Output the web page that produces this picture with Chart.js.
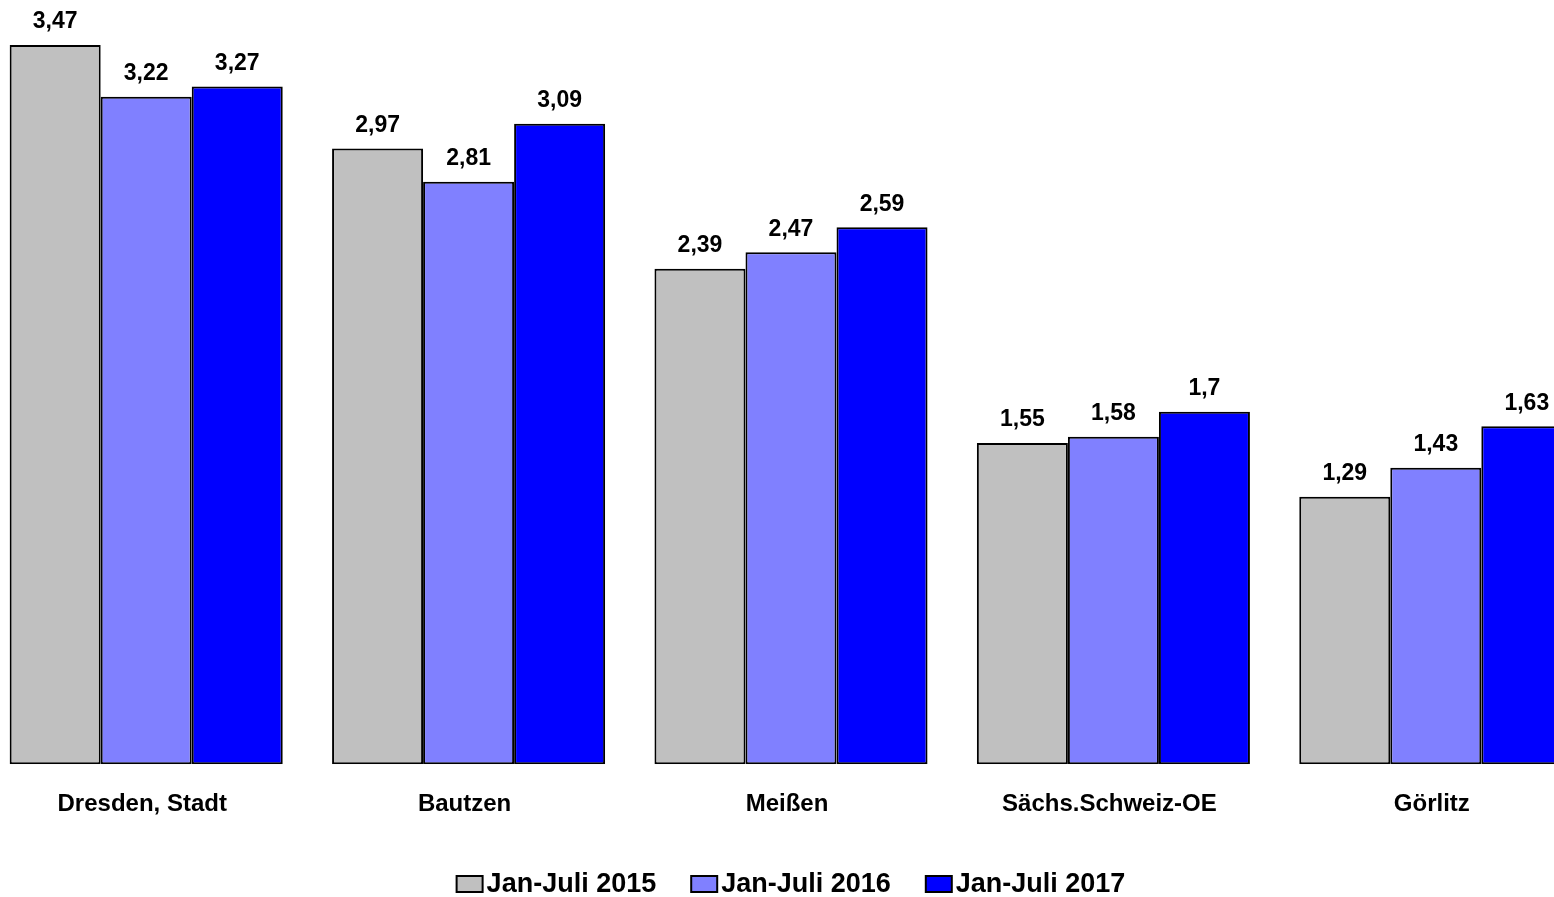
<!DOCTYPE html>
<html>
<head>
<meta charset="utf-8">
<script src="https://cdn.jsdelivr.net/npm/chart.js@4/dist/chart.umd.min.js"></script>
<style>
html,body{margin:0;padding:0;background:#fff;overflow:hidden;width:1554px;height:897px;}
#wrap{position:absolute;left:-15px;top:0;width:1612px;height:897px;}
</style>
</head>
<body>
<div id="wrap"><canvas id="c" width="1612" height="897"></canvas></div>
<script>
const categories = ["Dresden, Stadt", "Bautzen", "Meißen", "Sächs.Schweiz-OE", "Görlitz"];
const seriesLabels = ["Jan-Juli 2015", "Jan-Juli 2016", "Jan-Juli 2017"];
const values2015 = [3.47, 2.97, 2.39, 1.55, 1.29];
const values2016 = [3.22, 2.81, 2.47, 1.58, 1.43];
const values2017 = [3.27, 3.09, 2.59, 1.70, 1.63];
const colors = ["#C0C0C0", "#8080FF", "#0000FF"];

const FONT = "'Liberation Sans', Arial, sans-serif";
const fmt = v => String(v).replace('.', ',');

const valueLabels = {
  id: 'valueLabels',
  afterDatasetsDraw(chart) {
    const ctx = chart.ctx;
    ctx.save();
    ctx.font = "bold 23px " + FONT;
    ctx.fillStyle = "#000";
    ctx.textAlign = "center";
    ctx.textBaseline = "middle";
    chart.data.datasets.forEach((ds, i) => {
      chart.getDatasetMeta(i).data.forEach((bar, j) => {
        ctx.fillText(fmt(ds.data[j]), bar.x, bar.y - 23);
      });
    });
    ctx.restore();
  }
};

const customLegend = {
  id: 'customLegend',
  afterDraw(chart) {
    const ctx = chart.ctx;
    ctx.save();
    ctx.font = "bold 27px " + FONT;
    ctx.textBaseline = "middle";
    ctx.textAlign = "left";
    const boxW = 26, boxH = 16, gapText = 4, gapItem = 35;
    const items = chart.data.datasets.map(ds => ({label: ds.label, color: ds.backgroundColor, w: ctx.measureText(ds.label).width}));
    let total = items.reduce((s, it) => s + boxW + gapText + it.w, 0) + gapItem * (items.length - 1);
    let x = chart.width / 2 - total / 2;
    const yc = 884;
    items.forEach(it => {
      ctx.fillStyle = it.color;
      ctx.fillRect(x, yc - boxH / 2, boxW, boxH);
      ctx.lineWidth = 2;
      ctx.strokeStyle = "#000";
      ctx.strokeRect(x, yc - boxH / 2, boxW, boxH);
      ctx.fillStyle = "#000";
      ctx.fillText(it.label, x + boxW + gapText, yc + 1);
      x += boxW + gapText + it.w + gapItem;
    });
    ctx.restore();
  }
};

new Chart(document.getElementById('c'), {
  type: 'bar',
  data: {
    labels: categories,
    datasets: [
      {label: seriesLabels[0], data: values2015, backgroundColor: colors[0]},
      {label: seriesLabels[1], data: values2016, backgroundColor: colors[1]},
      {label: seriesLabels[2], data: values2017, backgroundColor: colors[2]}
    ].map(d => Object.assign(d, {borderColor: "#000", borderWidth: 2, borderSkipped: false}))
  },
  options: {
    responsive: false,
    animation: false,
    devicePixelRatio: 1,
    layout: {padding: {top: 18, left: 0, right: 0, bottom: 52}},
    plugins: {legend: {display: false}, tooltip: {enabled: false}},
    datasets: {bar: {categoryPercentage: 0.847, barPercentage: 1.0}},
    scales: {
      x: {
        grid: {display: false, drawTicks: false},
        border: {display: false},
        ticks: {color: "#000", font: {family: FONT, size: 24, weight: 'bold'}, padding: 26, labelOffset: -4}
      },
      y: {
        display: false,
        min: 0,
        max: 3.6
      }
    }
  },
  plugins: [valueLabels, customLegend]
});
</script>
</body>
</html>
